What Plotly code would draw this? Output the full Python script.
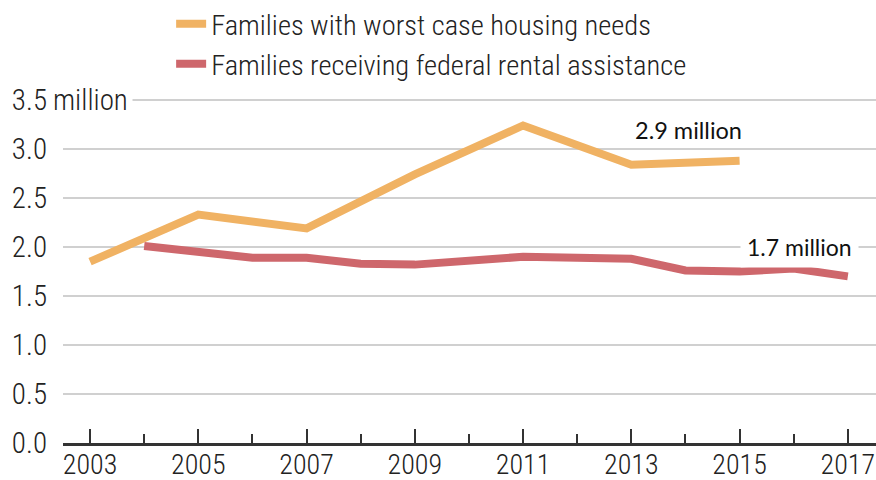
import plotly.graph_objects as go

worst_years = [2003, 2005, 2007, 2009, 2011, 2013, 2015]
worst_values = [1.85, 2.33, 2.19, 2.74, 3.24, 2.84, 2.88]

assist_years = [2004, 2005, 2006, 2007, 2008, 2009, 2010, 2011, 2012, 2013, 2014, 2015, 2016, 2017]
assist_values = [2.01, 1.96, 1.89, 1.89, 1.83, 1.82, 1.86, 1.90, 1.89, 1.88, 1.76, 1.75, 1.78, 1.70]

x_tick_vals = [2003, 2005, 2007, 2009, 2011, 2013, 2015, 2017]
x_tick_text = ["2003", "2005", "2007", "2009", "2011", "2013", "2015", "2017"]
y_tick_vals = [0, 0.5, 1.0, 1.5, 2.0, 2.5, 3.0, 3.5]
y_tick_text = ["0.0", "0.5", "1.0", "1.5", "2.0", "2.5", "3.0", "3.5"]

series_names = ["Families with worst case housing needs",
                "Families receiving federal rental assistance"]
label_worst = "2.9 million"
label_assist = "1.7 million"

ORANGE = "#F0B263"
RED = "#CE676C"
FONT = "Roboto Condensed, Liberation Sans Narrow, DejaVu Sans Condensed, sans-serif"
LFONT = "Lato, Liberation Sans, sans-serif"

fig = go.Figure()
fig.add_trace(go.Scatter(x=worst_years, y=worst_values, mode="lines", name=series_names[0],
                         line=dict(color=ORANGE, width=8)))
fig.add_trace(go.Scatter(x=assist_years, y=assist_values, mode="lines", name=series_names[1],
                         line=dict(color=RED, width=8)))

fig.update_layout(
    width=876, height=480,
    margin=dict(l=63, r=0, t=98, b=37, autoexpand=False),
    paper_bgcolor="white", plot_bgcolor="white",
    font=dict(family=FONT, color="#222222", size=28, weight=300),
    showlegend=True,
    legend=dict(x=0.133, y=1.288, xanchor="left", yanchor="top", orientation="v",
                font=dict(family=FONT, size=28.5, color="#222222", weight=300),
                bgcolor="rgba(0,0,0,0)", traceorder="normal", tracegroupgap=0),
    xaxis=dict(range=[2002.5, 2017.52], tickvals=x_tick_vals, ticktext=x_tick_text,
               ticks="inside", ticklen=14, tickwidth=2, tickcolor="#333333",
               minor=dict(ticks="inside", ticklen=9, tickwidth=1.5, tickcolor="#333333",
                          tick0=2004, dtick=2),
               showline=True, linecolor="#333333", linewidth=3,
               showgrid=False, zeroline=False, automargin=False,
               ticklabelstandoff=-6, ticklabeloverflow="allow",
               tickfont=dict(family=FONT, size=28, color="#222222", weight=300)),
    yaxis=dict(range=[0, 3.52], tickvals=y_tick_vals, ticktext=y_tick_text,
               showgrid=True, gridcolor="#d0d0d0", gridwidth=2,
               zeroline=False, showline=False, ticks="", automargin=False,
               ticklabelstandoff=15,
               tickfont=dict(family=FONT, size=29, color="#222222", weight=300)),
)

fig.add_annotation(x=-0.0185, xref="paper", y=3.5, yref="y", text="million",
                   showarrow=False, xanchor="left", yanchor="middle",
                   font=dict(family=FONT, size=29, color="#222222", weight=300),
                   bgcolor="white", borderpad=4)
fig.add_annotation(x=2014.05, xref="x", y=3.19, yref="y", text=label_worst,
                   showarrow=False, xanchor="center", yanchor="middle",
                   font=dict(family=LFONT, size=23.5, color="#111111", weight=400))
fig.add_annotation(x=2016.1, xref="x", y=2.0, yref="y", text=label_assist,
                   showarrow=False, xanchor="center", yanchor="middle",
                   font=dict(family=LFONT, size=23, color="#111111", weight=400),
                   bgcolor="white", borderpad=6)

fig.write_html("out.html", config={"displayModeBar": False},
               post_script="document.body.style.margin='0';")
